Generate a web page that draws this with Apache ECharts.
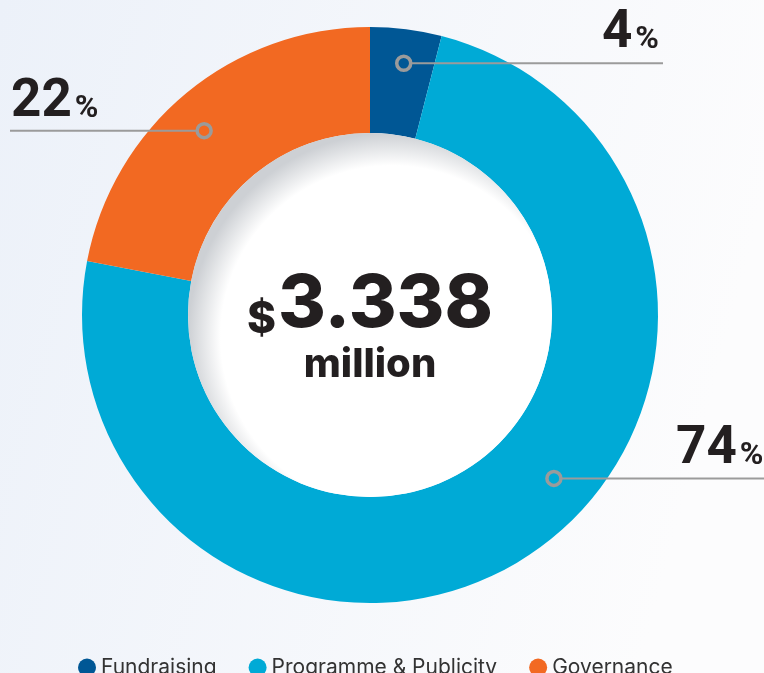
<!DOCTYPE html>
<html><head><meta charset="utf-8">
<script src="https://cdn.jsdelivr.net/npm/echarts@6/dist/echarts.min.js"></script>
<style>html,body{margin:0;padding:0;background:#fff;}#c{width:764px;height:673px;}</style>
</head><body><div id="c"></div>
<script>
// ---- data ----
const categories = ['Fundraising', 'Programme & Publicity', 'Governance'];
const shares = [4, 74, 22];
const currencySymbol = '$';
const totalValue = '3.338';
const totalUnit = 'million';

// ---- styling / layout ----
const colors = ['#005795', '#00aad6', '#f26922'];
const CX = 370, CY = 315, R0 = 182, R1 = 288;
const anchorFrac = [0.53, 0.44, 0.47];
const anchorR = [254, 246, 248];
// text anchor x, text bottom y, align, leader line end x
const labelPos = [
  { x: 659, y: 62, align: 'right', end: 663 },
  { x: 11, y: 478, align: 'left', end: 764 },
  { x: 11, y: 131, align: 'left', end: 10 }
];
labelPos[1].x = 676;

const total = shares.reduce((a, b) => a + b, 0);
const anchors = [];
let cum = 0;
shares.forEach((v, i) => {
  const ang = (cum + anchorFrac[i] * v) / total * 360;
  anchors.push([anchorR[i], ang]);
  cum += v;
});
function toPx(r, angDeg) {
  const a = angDeg * Math.PI / 180;
  return [CX + r * Math.sin(a), CY - r * Math.cos(a)];
}

const FONT = 'Inter, Roboto, "Noto Sans", sans-serif';
const PFONT = 'Roboto, Inter, sans-serif';
const sliceData = categories.map((c, i) => ({ name: c, value: shares[i] }));
const chart = echarts.init(document.getElementById('c'));
chart.setOption({
  backgroundColor: {
    type: 'linear', x: 0, y: 0, x2: 1, y2: 0.3,
    colorStops: [{ offset: 0, color: '#ecf1f9' }, { offset: 1, color: '#fcfcfd' }]
  },
  animation: false,
  color: colors,
  legend: {
    data: categories,
    top: 652,
    left: 73,
    icon: 'circle',
    itemWidth: 18,
    itemHeight: 18,
    itemGap: 32,
    textStyle: { fontSize: 21, color: '#333', fontFamily: FONT }
  },
  polar: { center: [CX, CY], radius: R1 },
  angleAxis: { type: 'value', min: 0, max: 360, startAngle: 90, clockwise: true, show: false },
  radiusAxis: { type: 'value', min: 0, max: R1, show: false },
  series: [
    {
      type: 'pie',
      name: 'Expenditure',
      center: [CX, CY],
      radius: [R0, R1],
      startAngle: 90,
      clockwise: true,
      silent: true,
      z: 2,
      data: sliceData,
      label: { show: false },
      labelLine: { show: false }
    },
    {
      type: 'pie',
      name: 'labels',
      center: [CX, CY],
      radius: [R0, R1],
      startAngle: 90,
      clockwise: true,
      silent: true,
      legendHoverLink: false,
      avoidLabelOverlap: false,
      z: 5,
      itemStyle: { color: 'rgba(0,0,0,0)' },
      data: sliceData,
      label: {
        show: true,
        formatter: p => '{n|' + p.value + '}{p|%}',
        rich: {
          n: { fontSize: 53, fontWeight: 'bold', color: '#231f20', fontFamily: PFONT, lineHeight: 53, verticalAlign: 'bottom' },
          p: { fontSize: 32, fontWeight: 'bold', color: '#231f20', fontFamily: PFONT, lineHeight: 32, verticalAlign: 'bottom', padding: [0, 0, 4, 3] }
        }
      },
      labelLine: { show: true, showAbove: true, lineStyle: { color: '#9b9b9b', width: 2 } },
      labelLayout: function (params) {
        const i = params.dataIndex;
        const m = toPx(anchors[i][0], anchors[i][1]);
        const lp = labelPos[i];
        const s = lp.end > m[0] ? 7 : -7;
        return {
          x: lp.x, y: lp.y - 2, align: lp.align, verticalAlign: 'bottom',
          labelLinePoints: [[m[0] + s, m[1]], [(m[0] + lp.end) / 2, m[1]], [lp.end, m[1]]]
        };
      }
    },
    {
      type: 'pie',
      name: 'center',
      center: [CX, CY],
      radius: [0, R0],
      silent: true,
      legendHoverLink: false,
      data: [{
        name: 'total', value: 1,
        itemStyle: {
          color: {
            type: 'radial', x: 0.56, y: 0.56, r: 0.56,
            colorStops: [{ offset: 0, color: '#ffffff' }, { offset: 0.84, color: '#ffffff' }, { offset: 1, color: '#cdd0d4' }]
          }
        }
      }],
      label: {
        show: true,
        position: 'center',
        padding: [27, 0, 0, 0],
        formatter: '{c|' + currencySymbol + '}{v|' + totalValue + '}\n{m|' + totalUnit + '}',
        rich: {
          c: { fontSize: 44, fontWeight: 800, color: '#231f20', fontFamily: FONT, verticalAlign: 'bottom', lineHeight: 44, padding: [0, 2, 0, 0] },
          v: { fontSize: 73, fontWeight: 800, color: '#231f20', fontFamily: FONT, verticalAlign: 'bottom', lineHeight: 73 },
          m: { fontSize: 40, fontWeight: 800, color: '#231f20', fontFamily: FONT, lineHeight: 46 }
        }
      },
      labelLine: { show: false }
    },
    {
      type: 'scatter',
      coordinateSystem: 'polar',
      silent: true,
      symbol: 'circle',
      symbolSize: 14,
      z: 10,
      itemStyle: { color: 'rgba(0,0,0,0)', borderColor: '#9b9b9b', borderWidth: 3.5, opacity: 1 },
      data: anchors,
      label: { show: false }
    }
  ]
});
</script>
</body></html>
